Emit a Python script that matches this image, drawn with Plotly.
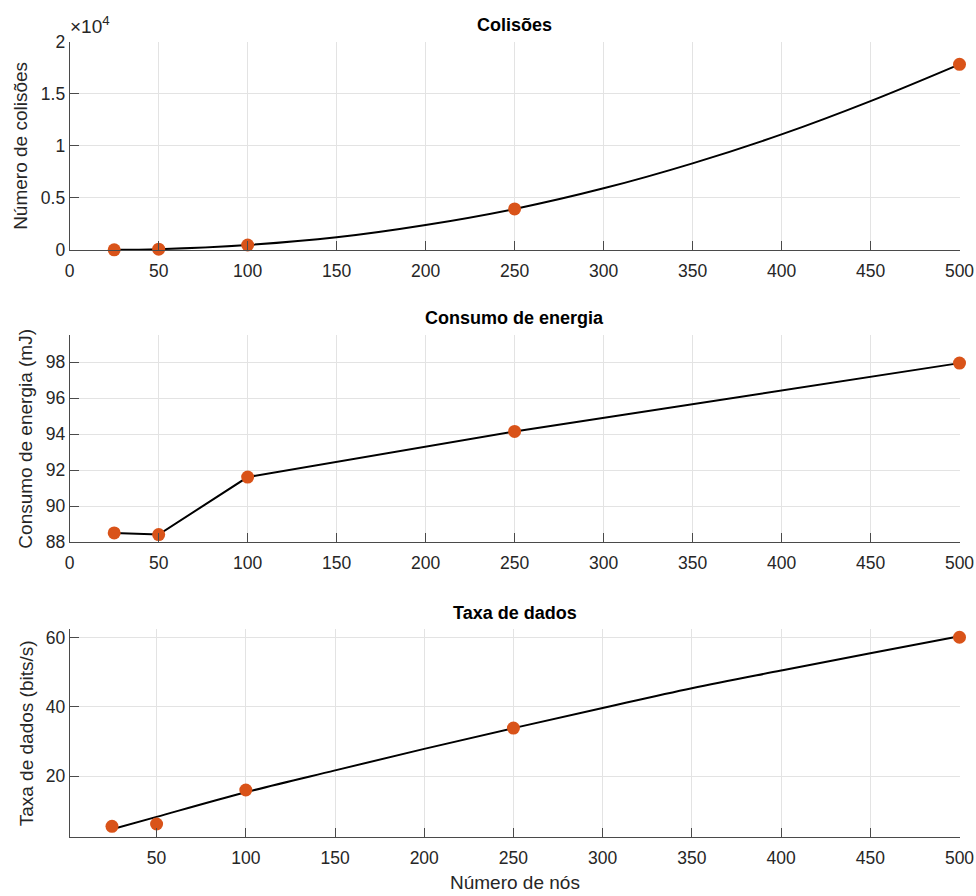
import plotly.graph_objects as go

# ---- data ----
nodes = [25, 50, 100, 250, 500]
collisions = [20, 80, 480, 3940, 17830]
energy = [88.52, 88.43, 91.62, 94.15, 97.94]
rate = [5.57, 6.23, 16.05, 33.9, 60.1]

fit_nodes = [25, 50, 100, 150, 200, 250, 300, 350, 400, 450, 500]
collisions_fit = [20, 80, 480, 1220, 2400, 3940, 5920, 8320, 11100, 14300, 17830]
rate_fit = [4.7, 8.3, 15.4, 21.7, 27.9, 33.9, 39.7, 45.4, 50.5, 55.5, 60.4]

titles = ["Colisões", "Consumo de energia", "Taxa de dados"]
ylabels = ["Número de colisões", "Consumo de energia (mJ)", "Taxa de dados (bits/s)"]
xlabel = "Número de nós"

col_ticks = [0, 5000, 10000, 15000, 20000]
col_ticktext = ["0", "0.5", "1", "1.5", "2"]
energy_ticks = [88, 90, 92, 94, 96, 98]
rate_ticks = [20, 40, 60]
x_ticks_full = [0, 50, 100, 150, 200, 250, 300, 350, 400, 450, 500]
x_ticks_bottom = [50, 100, 150, 200, 250, 300, 350, 400, 450, 500]

W, H = 976, 896
FONT = "Liberation Sans, Arial, Helvetica, sans-serif"
TXT = "#262626"
AX = "#4a4a4a"
GRID = "#e3e3e3"
ORANGE = "#D95319"

def px_x(p):
    return p / W

def px_y(p):
    return 1 - p / H

left, right = 69.7, 959.5
panels = [(41.7, 250.0), (335.0, 542.3), (629.3, 837.3)]

fig = go.Figure()

line_style = dict(color="black", width=2)
marker_style = dict(color=ORANGE, size=13, line=dict(width=0))

# Panel 1
fig.add_trace(go.Scatter(x=fit_nodes, y=collisions_fit, mode="lines", line=dict(shape="spline", **line_style),
                         xaxis="x", yaxis="y", showlegend=False, cliponaxis=False))
fig.add_trace(go.Scatter(x=nodes, y=collisions, mode="markers", marker=marker_style,
                         xaxis="x", yaxis="y", showlegend=False, cliponaxis=False))
# Panel 2
fig.add_trace(go.Scatter(x=nodes, y=energy, mode="lines", line=line_style,
                         xaxis="x2", yaxis="y2", showlegend=False, cliponaxis=False))
fig.add_trace(go.Scatter(x=nodes, y=energy, mode="markers", marker=marker_style,
                         xaxis="x2", yaxis="y2", showlegend=False, cliponaxis=False))
# Panel 3
fig.add_trace(go.Scatter(x=fit_nodes, y=rate_fit, mode="lines", line=dict(shape="spline", **line_style),
                         xaxis="x3", yaxis="y3", showlegend=False, cliponaxis=False))
fig.add_trace(go.Scatter(x=nodes, y=rate, mode="markers", marker=marker_style,
                         xaxis="x3", yaxis="y3", showlegend=False, cliponaxis=False))

axis_common = dict(
    showline=True, linecolor=AX, linewidth=1,
    ticks="inside", ticklen=9, tickcolor=AX, tickwidth=1,
    showgrid=True, gridcolor=GRID, gridwidth=1,
    zeroline=False, mirror=False, automargin=False,
    tickfont=dict(family=FONT, size=17.5, color=TXT),
    fixedrange=True,
)

xdom = [px_x(left), px_x(right)]
layout = dict(
    width=W, height=H,
    margin=dict(l=0, r=0, t=0, b=0),
    paper_bgcolor="white", plot_bgcolor="white",
    font=dict(family=FONT, color=TXT),
    showlegend=False,
)

ranges_y = [[0, 20000], [88, 99.5], [2.4, 62.4]]
ticks_y = [(col_ticks, col_ticktext), (energy_ticks, [str(v) for v in energy_ticks]), (rate_ticks, [str(v) for v in rate_ticks])]
ranges_x = [[0, 500], [0, 500], [1.3, 500]]
ticks_x = [x_ticks_full, x_ticks_full, x_ticks_bottom]

for i, (top, bot) in enumerate(panels):
    sfx = "" if i == 0 else str(i + 1)
    layout["xaxis" + sfx] = dict(axis_common, domain=xdom, range=ranges_x[i],
                                 tickvals=ticks_x[i], anchor="y" + sfx, ticklabelstandoff=5)
    layout["yaxis" + sfx] = dict(axis_common, domain=[px_y(bot), px_y(top)], range=ranges_y[i],
                                 tickvals=ticks_y[i][0], ticktext=ticks_y[i][1], anchor="x" + sfx)

fig.update_layout(**layout)

annotations = []
title_y = [25, 318, 613]
ylabel_x = [21, 26, 26]
for i, (top, bot) in enumerate(panels):
    annotations.append(dict(text="<b>" + titles[i] + "</b>", xref="paper", yref="paper",
                            x=px_x((left + right) / 2), y=px_y(title_y[i]), xanchor="center", yanchor="middle",
                            showarrow=False, font=dict(family=FONT, size=18, color="black")))
    annotations.append(dict(text=ylabels[i], xref="paper", yref="paper", textangle=-90,
                            x=px_x(ylabel_x[i]), y=px_y((top + bot) / 2), xanchor="center", yanchor="middle",
                            showarrow=False, font=dict(family=FONT, size=19, color=TXT)))
annotations.append(dict(text=xlabel, xref="paper", yref="paper",
                        x=px_x((left + right) / 2), y=px_y(882), xanchor="center", yanchor="middle",
                        showarrow=False, font=dict(family=FONT, size=19, color=TXT)))
annotations.append(dict(text="×10<sup>4</sup>", xref="paper", yref="paper",
                        x=px_x(68), y=px_y(39), xanchor="left", yanchor="bottom",
                        showarrow=False, font=dict(family=FONT, size=19, color=TXT)))
fig.update_layout(annotations=annotations)

fig.write_html("out.html")
